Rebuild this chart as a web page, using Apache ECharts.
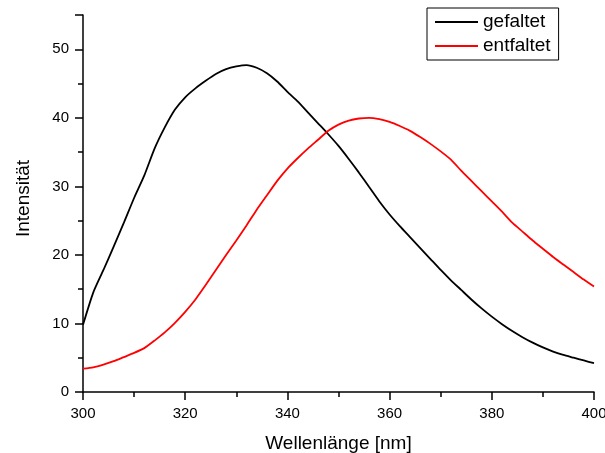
<!DOCTYPE html>
<html>
<head>
<meta charset="utf-8">
<script src="https://cdn.jsdelivr.net/npm/echarts@6/dist/echarts.min.js"></script>
<style>
html,body{margin:0;padding:0;background:#fff;}
#chart{width:605px;height:453px;}
</style>
</head>
<body>
<div id="chart"></div>
<script>
// Wavelengths (nm)
var wavelengths = [300,302,304,306,308,310,312,314,316,318,320,322,324,326,328,330,332,334,336,338,340,342,344,346,348,350,352,354,356,358,360,362,364,366,368,370,372,374,376,378,380,382,384,386,388,390,392,394,396,398,400];
// Intensity, folded (gefaltet)
var gefaltet = [9.8,14.5,17.8,21.2,24.7,28.3,31.6,35.5,38.6,41.2,43.0,44.3,45.4,46.4,47.1,47.5,47.7,47.3,46.5,45.3,43.8,42.4,40.8,39.2,37.6,35.9,34.0,32.0,29.9,27.8,25.9,24.2,22.6,21.0,19.4,17.8,16.3,14.9,13.5,12.2,11.0,9.9,8.9,8.0,7.2,6.5,5.9,5.4,5.0,4.6,4.2];
// Intensity, unfolded (entfaltet)
var entfaltet = [3.4,3.6,4.0,4.5,5.1,5.7,6.4,7.5,8.7,10.1,11.7,13.5,15.6,17.8,20.0,22.1,24.3,26.6,28.7,30.8,32.6,34.1,35.5,36.8,38.1,39.0,39.6,39.9,40.0,39.8,39.4,38.8,38.1,37.2,36.2,35.1,33.9,32.3,30.8,29.3,27.8,26.3,24.7,23.4,22.1,20.9,19.7,18.6,17.5,16.4,15.4];
var seriesNames = ['gefaltet','entfaltet'];
var xName = 'Wellenlänge [nm]';
var yName = 'Intensität';

function pairs(xs, ys){ return xs.map(function(x,i){ return [x, ys[i]]; }); }

var font = '"Liberation Sans", Arial, sans-serif';
var chart = echarts.init(document.getElementById('chart'), null, {renderer:'canvas'});
chart.setOption({
  animation:false,
  backgroundColor:'#fff',
  grid:{left:83,right:11,top:15,bottom:61,containLabel:false,outerBoundsMode:'none'},
  legend:{
    data:[{name:seriesNames[0],icon:'rect'},{name:seriesNames[1],icon:'rect'}],
    orient:'vertical',
    left:427, top:8,
    padding:[4,8,4,8],
    itemGap:4,
    itemWidth:43, itemHeight:2,
    borderColor:'#000', borderWidth:1,
    backgroundColor:'#fff',
    textStyle:{fontFamily:font,fontSize:19,color:'#000',lineHeight:20}
  },
  xAxis:{
    type:'value', min:300, max:400, interval:20,
    name:xName, nameLocation:'middle', nameGap:42,
    nameTextStyle:{fontFamily:font,fontSize:19,color:'#000'},
    axisLine:{show:true,onZero:false,lineStyle:{color:'#000',width:1.5}},
    axisTick:{show:true,length:8,lineStyle:{color:'#000',width:1.5}},
    minorTick:{show:true,splitNumber:2,length:5,lineStyle:{color:'#000',width:1.5}},
    axisLabel:{margin:14,fontFamily:font,fontSize:15,color:'#000'},
    splitLine:{show:false}
  },
  yAxis:{
    type:'value', min:0, max:55, interval:10,
    name:yName, nameLocation:'middle', nameGap:50,
    nameTextStyle:{fontFamily:font,fontSize:19,color:'#000',padding:[0,0,0,10]},
    axisLine:{show:true,onZero:false,lineStyle:{color:'#000',width:1.5}},
    axisTick:{show:true,length:8,lineStyle:{color:'#000',width:1.5}},
    minorTick:{show:true,splitNumber:2,length:5,lineStyle:{color:'#000',width:1.5}},
    axisLabel:{margin:14,fontFamily:font,fontSize:15,color:'#000',showMaxLabel:false},
    splitLine:{show:false}
  },
  series:[
    {name:seriesNames[0],type:'line',data:pairs(wavelengths,gefaltet),symbol:'none',smooth:0.2,
     lineStyle:{color:'#000',width:1.8},itemStyle:{color:'#000'}},
    {name:seriesNames[1],type:'line',data:pairs(wavelengths,entfaltet),symbol:'none',smooth:0.2,
     lineStyle:{color:'#ff0000',width:1.8},itemStyle:{color:'#ff0000'}}
  ]
});
</script>
</body>
</html>
